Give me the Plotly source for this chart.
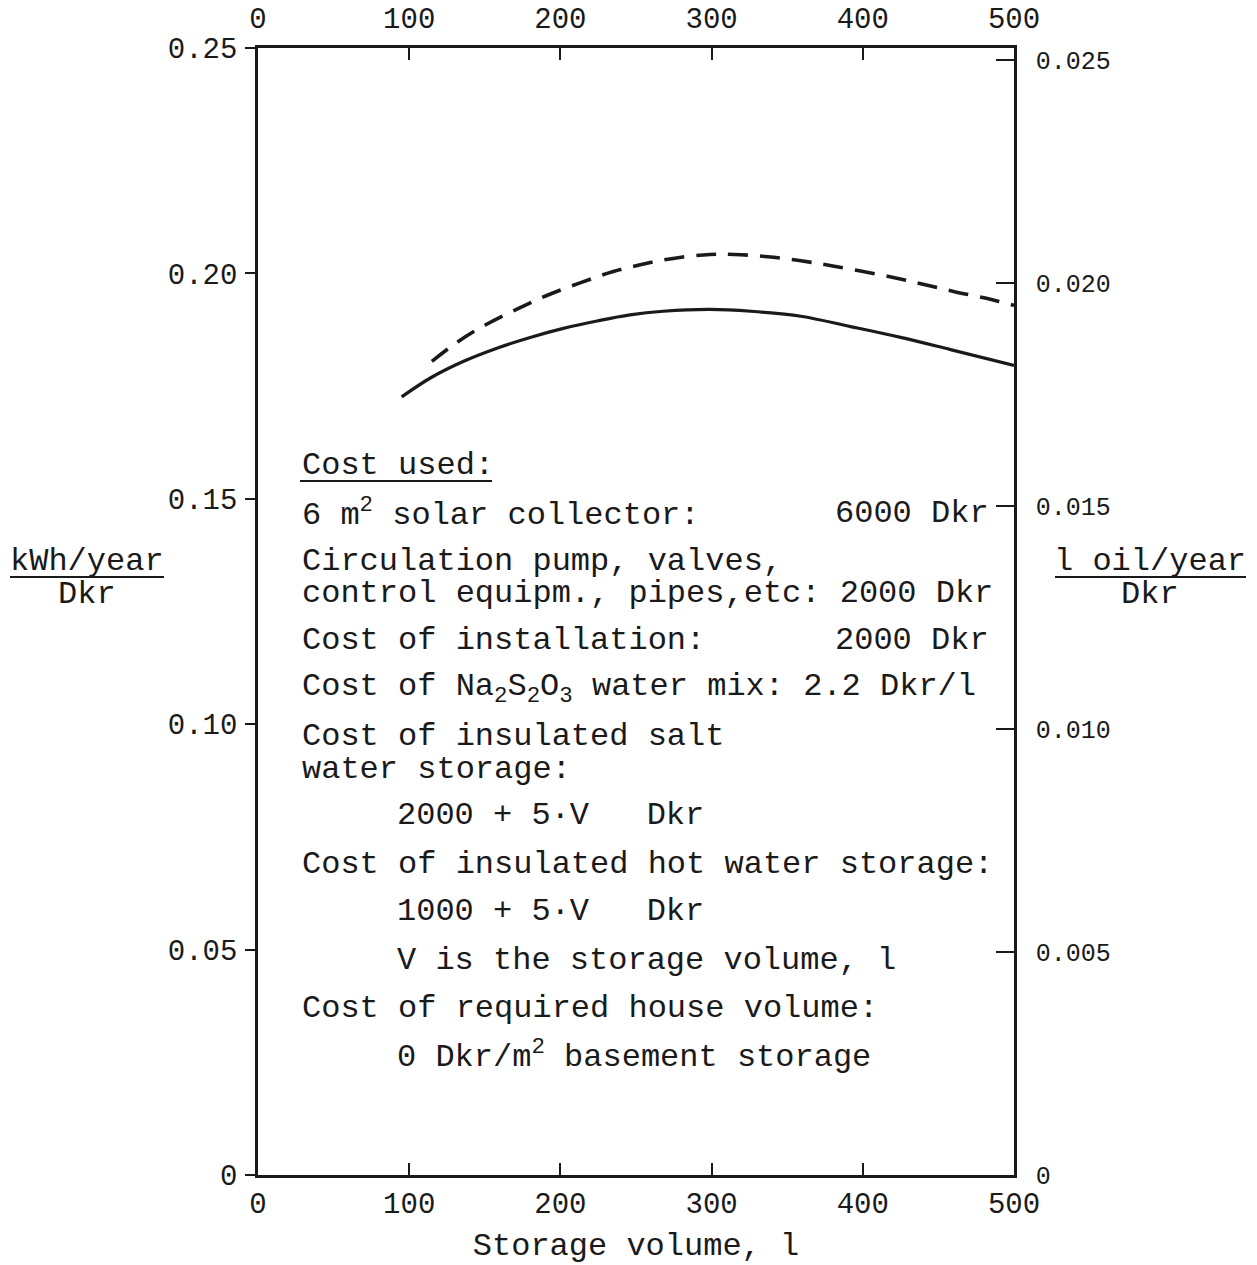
import plotly.graph_objects as go

# ---------------- data ----------------
x_solid = [95, 114, 136, 158, 180, 202, 225, 246, 268, 299, 326, 359, 392, 425, 458, 500]
y_solid = [0.1726, 0.1768, 0.1805, 0.1834, 0.1858, 0.1878, 0.1895, 0.1908, 0.1916, 0.1920,
           0.1916, 0.1905, 0.1882, 0.1858, 0.1831, 0.1796]
x_dash = [115, 132, 150, 172, 191, 213, 235, 258, 280, 299, 315, 337, 359, 381, 410, 436, 460, 485, 500]
y_dash = [0.1805, 0.1848, 0.1885, 0.1922, 0.1951, 0.1979, 0.2004, 0.2023, 0.2036, 0.2042,
          0.2042, 0.2037, 0.2028, 0.2016, 0.1998, 0.1979, 0.1960, 0.1942, 0.1929]

x_ticks = [0, 100, 200, 300, 400, 500]
y_left_ticks = [0, 0.05, 0.10, 0.15, 0.20, 0.25]
y_left_labels = ["0", "0.05", "0.10", "0.15", "0.20", "0.25"]
y_right_ticks = [0, 0.005, 0.010, 0.015, 0.020, 0.025]
y_right_labels = ["0", "0.005", "0.010", "0.015", "0.020", "0.025"]

FONT = "Liberation Mono"
INK = "#1a1a1a"

# plot area in pixels
L, R, T, B = 258, 1014, 48, 1175
W, H = 1257, 1265


def px(xp):
    return (xp - L) / (R - L)


def py(yp):
    return (B - yp) / (B - T)


fig = go.Figure()
fig.add_trace(go.Scatter(x=x_solid, y=y_solid, mode="lines", line=dict(color=INK, width=3.2, shape="spline"),
                         showlegend=False, hoverinfo="skip"))
fig.add_trace(go.Scatter(x=x_dash, y=y_dash, mode="lines",
                         line=dict(color=INK, width=3.6, shape="spline", dash="20px,12px"),
                         showlegend=False, hoverinfo="skip", xaxis="x2"))
fig.add_trace(go.Scatter(x=[None], y=[None], xaxis="x2", yaxis="y2", showlegend=False, hoverinfo="skip"))

axis_common = dict(showgrid=False, zeroline=False, showline=True, linecolor=INK, linewidth=2.5,
                   tickcolor=INK, tickwidth=2, automargin=False)
tf = dict(family=FONT, size=29, color=INK)

fig.update_layout(
    template="none",
    width=W, height=H,
    margin=dict(l=L, r=W - R, t=T, b=H - B),
    paper_bgcolor="white", plot_bgcolor="white",
    font=dict(family=FONT, color=INK),
    xaxis=dict(range=[0, 500], tickvals=x_ticks, ticks="inside", ticklen=12, side="bottom", tickfont=tf,
               title=dict(text="Storage volume, l", font=dict(family=FONT, size=32, color=INK), standoff=22),
               **axis_common),
    xaxis2=dict(range=[0, 500], tickvals=x_ticks, ticks="inside", ticklen=12, side="top", tickfont=tf,
                ticklabelstandoff=6, overlaying="x", anchor="y", **axis_common),
    yaxis=dict(range=[0, 0.25], tickvals=y_left_ticks, ticktext=y_left_labels, ticks="outside",
               ticklen=10, side="left", tickfont=tf, ticklabelstandoff=2, **axis_common),
    yaxis2=dict(range=[0, 0.02527], tickvals=y_right_ticks, ticktext=y_right_labels, ticks="inside",
                ticklen=18, side="right", overlaying="y", anchor="x", ticklabelstandoff=14,
                tickfont=dict(family=FONT, size=25, color=INK), **axis_common),
)

# ---------------- text block ----------------
NB = "\u00a0"
lines = [
    ("Cost used:", 300, 465, "left"),
    ("6 m<sup>2</sup> solar collector:", 300, 513, "left"),
    ("6000 Dkr", 991, 513, "right"),
    ("Circulation pump, valves,", 300, 561, "left"),
    ("control equipm., pipes,etc: 2000 Dkr", 300, 593, "left"),
    ("Cost of installation:", 300, 640, "left"),
    ("2000 Dkr", 991, 640, "right"),
    ("Cost of Na<sub>2</sub>S<sub>2</sub>O<sub>3</sub> water mix: 2.2 Dkr/l", 300, 688, "left"),
    ("Cost of insulated salt", 300, 736, "left"),
    ("water storage:", 300, 769, "left"),
    ("2000 + 5·V" + NB * 3 + "Dkr", 395, 815, "left"),
    ("Cost of insulated hot water storage:", 300, 864, "left"),
    ("1000 + 5·V" + NB * 3 + "Dkr", 395, 911, "left"),
    ("V is the storage volume, l", 395, 960, "left"),
    ("Cost of required house volume:", 300, 1008, "left"),
    ("0 Dkr/m<sup>2</sup> basement storage", 395, 1055, "left"),
]
for txt, xx, yy, anc in lines:
    fig.add_annotation(text=txt, x=px(xx), y=py(yy), xref="paper", yref="paper",
                       xanchor=anc, yanchor="middle", showarrow=False,
                       font=dict(family=FONT, size=32, color=INK))

# y-axis titles (fractions)
for txt, xx, yy in [("kWh/year", 87, 561), ("Dkr", 87, 594), ("l oil/year", 1150, 561), ("Dkr", 1150, 594)]:
    fig.add_annotation(text=txt, x=px(xx), y=py(yy), xref="paper", yref="paper",
                       xanchor="center", yanchor="middle", showarrow=False,
                       font=dict(family=FONT, size=32, color=INK))

# fraction bars / underline
for x0, x1, yy in [(10, 164, 577), (1055, 1246, 577), (300, 492, 481)]:
    fig.add_shape(type="line", xref="paper", yref="paper", x0=px(x0), x1=px(x1), y0=py(yy), y1=py(yy),
                  line=dict(color=INK, width=2))

fig.write_html("out.html")
